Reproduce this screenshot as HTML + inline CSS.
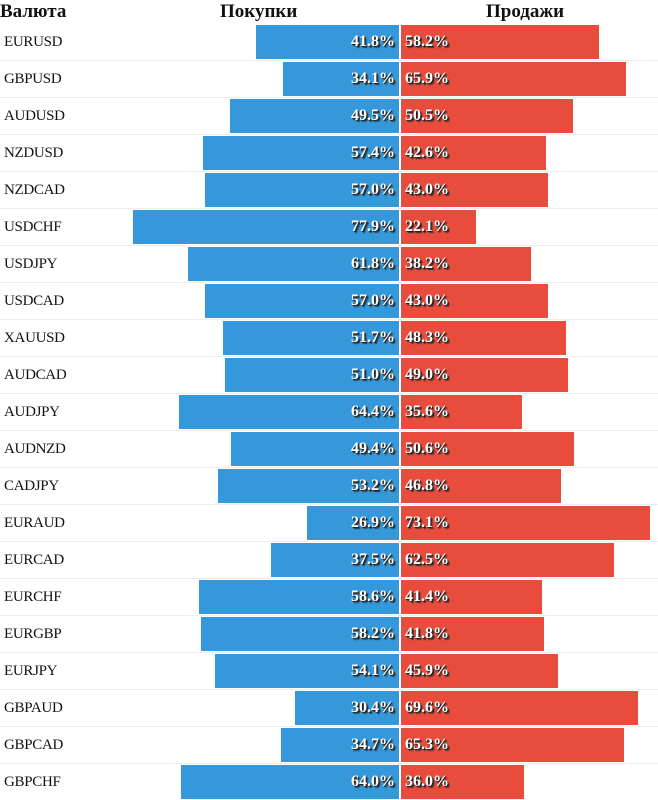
<!DOCTYPE html>
<html><head><meta charset="utf-8"><style>
body{margin:0;width:658px;height:800px;background:#fff;overflow:hidden;position:relative;font-family:"Liberation Serif",serif}
.h{position:absolute;top:0;font-weight:bold;font-size:19px;line-height:24px;color:#111}
.row{position:absolute;left:0;width:658px;height:37px}
.sep{position:absolute;left:0;width:658px;height:1px;background:#eee}
.lab{position:absolute;left:4px;font-size:15px;color:#111;line-height:34px;letter-spacing:-0.3px}
.bar{position:absolute;height:34px}
.b{background:#3498db}.r{background:#e74c3c}
.v{position:absolute;top:0;line-height:34px;font-weight:bold;font-size:16px;color:#fff;text-shadow:1px 1px 0 #222,2px 2px 1px #333}
</style></head><body>
<div class="h" style="left:0">Валюта</div>
<div class="h" style="left:220px">Покупки</div>
<div class="h" style="left:486px">Продажи</div>
<div id="chart"></div>
<script>
const pairs=["EURUSD","GBPUSD","AUDUSD","NZDUSD","NZDCAD","USDCHF","USDJPY","USDCAD","XAUUSD","AUDCAD","AUDJPY","AUDNZD","CADJPY","EURAUD","EURCAD","EURCHF","EURGBP","EURJPY","GBPAUD","GBPCAD","GBPCHF"];
const buys=[41.8,34.1,49.5,57.4,57.0,77.9,61.8,57.0,51.7,51.0,64.4,49.4,53.2,26.9,37.5,58.6,58.2,54.1,30.4,34.7,64.0];
const sells=[58.2,65.9,50.5,42.6,43.0,22.1,38.2,43.0,48.3,49.0,35.6,50.6,46.8,73.1,62.5,41.4,41.8,45.9,69.6,65.3,36.0];
const cx=400,k=3.41,top0=25,pitch=37;
const c=document.getElementById('chart');
pairs.forEach((p,i)=>{
  const y=top0+i*pitch;
  if(i>0){const s=document.createElement('div');s.className='sep';s.style.top=(y-2)+'px';
  
  c.appendChild(s);}
  const l=document.createElement('div');l.className='lab';l.style.top=y+'px';l.textContent=p;
  
  c.appendChild(l);
  const bw=buys[i]*k;
  const b=document.createElement('div');b.className='bar b';b.style.top=y+'px';b.style.left=(cx-1-bw)+'px';b.style.width=bw+'px';
  
  
  const bt=document.createElement('span');bt.className='v';bt.style.right='4px';bt.textContent=buys[i].toFixed(1)+'%';
  
  b.appendChild(bt);c.appendChild(b);
  const rw=sells[i]*k;
  const r=document.createElement('div');r.className='bar r';r.style.top=y+'px';r.style.left=(cx+1)+'px';r.style.width=rw+'px';
  
  
  const rt=document.createElement('span');rt.className='v';rt.style.left='4px';rt.textContent=sells[i].toFixed(1)+'%';
  
  r.appendChild(rt);c.appendChild(r);
});
</script>
</body></html>
